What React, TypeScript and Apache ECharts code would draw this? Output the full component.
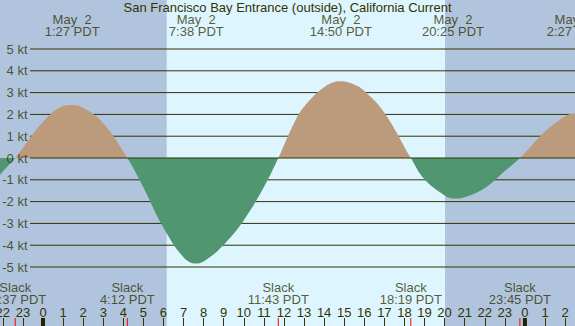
import React, { useEffect, useRef } from "react";
import * as echarts from "echarts";

// Tide current readings (hours from midnight May 2, knots)
const curveHours = [-2.3, -2, -1.383, -1, 0, 1, 1.45, 2, 3, 4.2, 5, 6, 7, 7.633, 8.2, 9, 10, 11, 11.717, 12.5, 13, 14, 14.833, 15.6, 16, 17, 18.317, 19, 20, 20.417, 21, 22, 23, 23.75, 24.5, 25, 26, 26.45, 26.6];
const curveKnots = [-0.95, -0.62, 0, 0.47, 1.65, 2.38, 2.43, 2.3, 1.6, 0, -1.35, -3.2, -4.55, -4.84, -4.62, -3.98, -2.85, -1.33, 0, 1.6, 2.35, 3.25, 3.52, 3.33, 3.08, 2.08, 0, -0.98, -1.72, -1.86, -1.8, -1.38, -0.6, 0, 0.75, 1.22, 1.92, 2.03, 2.02];

// Max flood / ebb events
const maxTimes = [1.45, 7.633, 14.833, 20.417, 26.45];
const maxDates = ["May  2", "May  2", "May  2", "May  2", "May  3"];
const maxLabels = ["1:27 PDT", "7:38 PDT", "14:50 PDT", "20:25 PDT", "2:27 PDT"];

// Slack events
const slackTimes = [-1.383, 4.2, 11.717, 18.317, 23.75];
const slackLabels = ["22:37 PDT", "4:12 PDT", "11:43 PDT", "18:19 PDT", "23:45 PDT"];

// Sun
const sunrise = 6.16;
const sunset = 20.02;
const midnights = [0, 24];

// Axis
const gridKnots = [5, 4, 3, 2, 1, -1, -2, -3, -4, -5];
const zeroKnots = [0];
const labelKnots = [5, 4, 3, 2, 1, 0, -1, -2, -3, -4, -5];

const TITLE = "San Francisco Bay Entrance (outside), California Current";

const W = 575;
const H = 326;
const X_MIN = -3;
const X_MAX = 27;
const Y_MIN = -7.706;
const Y_MAX = 7.248;
const GRID_START = -0.647;
const GRID_END = 27;
const TICK_TOP = -7.34;
const TOP_LABEL_Y = 6.09;
const BOTTOM_LABEL_Y = -6.23;

const INK = "#333300";
const NIGHT = "#B0C4DE";
const DAY = "#DDF5FF";
const FLOOD = "#BC9A7C";
const EBB = "#509670";
const FONT = "Liberation Sans";

export default function App() {
  const ref = useRef<HTMLDivElement>(null);
  useEffect(() => {
    const chart = echarts.init(ref.current!, null, { renderer: "svg" });

    const segment = (pts: number[][], color: string, width: number, z: number) => ({
      type: "line",
      z,
      silent: true,
      symbol: "none",
      showSymbol: false,
      lineStyle: { color, width, type: "solid" },
      data: pts,
    });

    const zeroOffset = Y_MAX / (Y_MAX - Y_MIN);
    const tideFill = new echarts.graphic.LinearGradient(
      0,
      0,
      0,
      H,
      [
        { offset: 0, color: FLOOD },
        { offset: zeroOffset, color: FLOOD },
        { offset: zeroOffset, color: EBB },
        { offset: 1, color: EBB },
      ],
      true
    );

    const series: any[] = [];
    series.push({
      type: "line",
      z: 0,
      silent: true,
      symbol: "none",
      showSymbol: false,
      lineStyle: { width: 0 },
      areaStyle: { color: DAY, opacity: 1, origin: "start" },
      data: [
        [sunrise, Y_MAX],
        [sunset, Y_MAX],
      ],
    });
    gridKnots.forEach((v) =>
      series.push(segment([[GRID_START, v], [GRID_END, v]], INK, 1, 1))
    );
    series.push({
      type: "line",
      z: 2,
      silent: true,
      smooth: 0.4,
      showSymbol: false,
      symbol: "none",
      lineStyle: { width: 0, color: FLOOD },
      itemStyle: { color: FLOOD },
      areaStyle: { opacity: 1, color: tideFill },
      data: curveHours.map((h, i) => [h, curveKnots[i]]),
    });
    zeroKnots.forEach((v) =>
      series.push(segment([[GRID_START, v], [GRID_END, v]], INK, 1, 3))
    );
    midnights.forEach((x) =>
      series.push(segment([[x, TICK_TOP], [x, Y_MIN]], "#222200", 4, 3))
    );
    slackTimes.forEach((x) =>
      series.push(segment([[x, TICK_TOP], [x, Y_MIN]], "#FF0000", 1, 3))
    );
    series.push({
      type: "scatter",
      z: 4,
      silent: true,
      symbolSize: 1,
      itemStyle: { color: "rgba(0,0,0,0)" },
      label: {
        show: true,
        position: "left",
        distance: 2,
        color: INK,
        fontSize: 13,
        fontFamily: FONT,
        formatter: (p: any) => `${labelKnots[p.dataIndex]} kt`,
      },
      data: labelKnots.map((v) => [GRID_START, v]),
    });
    series.push({
      type: "scatter",
      z: 4,
      silent: true,
      symbolSize: 1,
      itemStyle: { color: "rgba(0,0,0,0)" },
      label: {
        show: true,
        position: "inside",
        color: INK,
        fontSize: 13,
        fontFamily: FONT,
        lineHeight: 12,
        align: "center",
        verticalAlign: "middle",
        formatter: (p: any) =>
          p.dataIndex < maxTimes.length
            ? `${maxDates[p.dataIndex]}\n${maxLabels[p.dataIndex]}`
            : `Slack\n${slackLabels[p.dataIndex - maxTimes.length]}`,
      },
      labelLayout: { hideOverlap: false },
      data: [
        ...maxTimes.map((t) => [t, TOP_LABEL_Y]),
        ...slackTimes.map((t) => [t, BOTTOM_LABEL_Y]),
      ],
    });

    const option: any = {
      animation: false,
      backgroundColor: NIGHT,
      textStyle: { fontFamily: FONT },
      title: {
        text: TITLE,
        left: "center",
        top: 0,
        padding: 0,
        textStyle: { fontSize: 13, fontWeight: "normal", color: INK, fontFamily: FONT, lineHeight: 15 },
      },
      grid: {
        left: -17.24,
        right: -10.16,
        top: 0,
        bottom: 0,
        containLabel: false,
        outerBoundsMode: "none",
      },
      xAxis: {
        type: "value",
        position: "bottom",
        min: X_MIN,
        max: X_MAX,
        interval: 1,
        axisLine: { show: false, onZero: false },
        splitLine: { show: false },
        axisTick: {
          show: true,
          inside: true,
          length: 8,
          lineStyle: { color: INK, width: 1 },
        },
        axisLabel: {
          show: true,
          inside: true,
          margin: 7,
          color: INK,
          fontSize: 13,
          fontFamily: FONT,
          formatter: (v: number) => String(((Math.round(v) % 24) + 24) % 24),
        },
      },
      yAxis: {
        type: "value",
        min: Y_MIN,
        max: Y_MAX,
        show: false,
      },
      series,
    };
    chart.setOption(option);
    return () => chart.dispose();
  }, []);
  return (
    <div
      ref={ref}
      style={{ position: "fixed", left: 0, top: 0, width: W, height: H }}
    />
  );
}
